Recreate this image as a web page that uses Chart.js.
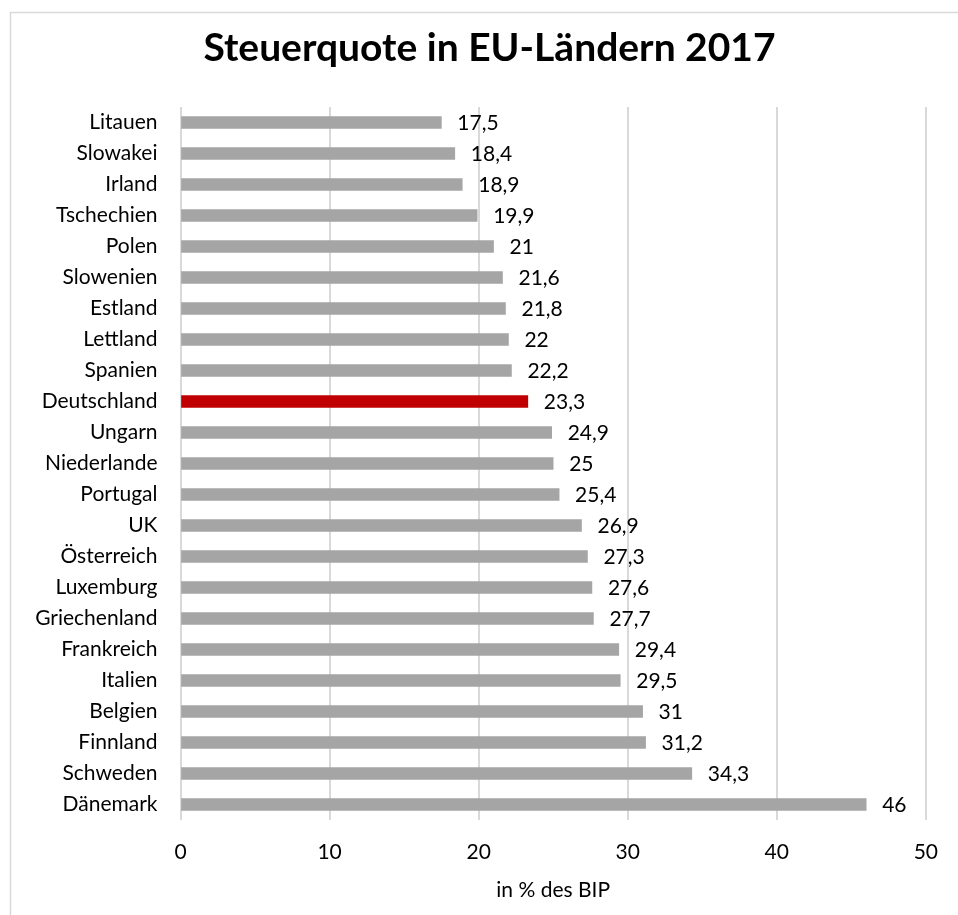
<!DOCTYPE html>
<html><head><meta charset="utf-8">
<script src="https://cdn.jsdelivr.net/npm/chart.js@4.4.1/dist/chart.umd.min.js"></script>
<style>html,body{margin:0;padding:0;background:#fff;}#wrap{width:958px;height:915px;position:relative;}</style>
</head><body><div id="wrap"><canvas id="c" width="958" height="915"></canvas></div>
<script>
const categories = ["Litauen","Slowakei","Irland","Tschechien","Polen","Slowenien","Estland","Lettland","Spanien","Deutschland","Ungarn","Niederlande","Portugal","UK","Österreich","Luxemburg","Griechenland","Frankreich","Italien","Belgien","Finnland","Schweden","Dänemark"];
const values = [17.5,18.4,18.9,19.9,21,21.6,21.8,22,22.2,23.3,24.9,25,25.4,26.9,27.3,27.6,27.7,29.4,29.5,31,31.2,34.3,46];
const highlight = "Deutschland";
const xTicks = [0,10,20,30,40,50];
const titleText = "Steuerquote in EU-Ländern 2017";
const xTitle = "in % des BIP";

const FONT = "Lato, 'Open Sans', sans-serif";
const colors = categories.map(c => c === highlight ? "#C00000" : "#A5A5A5");

const frame = {
  id: 'frame',
  beforeDraw(chart) {
    const ctx = chart.ctx;
    ctx.save();
    ctx.fillStyle = '#fff';
    ctx.fillRect(0,0,chart.width,chart.height);
    ctx.strokeStyle = '#D9D9D9';
    ctx.lineWidth = 1.5;
    ctx.strokeRect(10.5, 12.5, chart.width + 20, chart.height + 20);
    ctx.font = "bold 39px " + FONT;
    ctx.fillStyle = '#000';
    ctx.textAlign = 'center';
    ctx.textBaseline = 'middle';
    ctx.fillText(titleText, 489.5, 48);
    ctx.restore();
  }
};
const dataLabels = {
  id: 'dataLabels',
  afterDatasetsDraw(chart) {
    const ctx = chart.ctx;
    const meta = chart.getDatasetMeta(0);
    ctx.save();
    ctx.font = "21px " + FONT;
    ctx.fillStyle = '#000';
    ctx.textAlign = 'left';
    ctx.textBaseline = 'middle';
    meta.data.forEach((bar, i) => {
      const txt = String(values[i]).replace('.', ',');
      ctx.fillText(txt, bar.x + 16, bar.y + 1);
    });
    ctx.restore();
  }
};

new Chart(document.getElementById('c'), {
  type: 'bar',
  data: { labels: categories, datasets: [{ data: values, backgroundColor: colors, barThickness: 12 }] },
  options: {
    indexAxis: 'y',
    responsive: false,
    animation: false,
    layout: { padding: { left: 0, right: 29.5, top: 107, bottom: 0 } },
    plugins: {
      legend: { display: false },
      tooltip: { enabled: false },
      title: { display: false }
    },
    scales: {
      y: {
        afterFit(s) { s.width = 180.5; },
        grid: { display: false, drawTicks: false },
        border: { display: false },
        ticks: { color: '#000', font: { family: FONT, size: 21 }, padding: 23, autoSkip: false }
      },
      x: {
        min: 0, max: 50,
        afterBuildTicks(s) { s.ticks = xTicks.map(v => ({ value: v })); },
        afterFit(s) { s.height = 95; },
        grid: { color: '#D9D9D9', lineWidth: 2, drawTicks: false },
        border: { display: false },
        ticks: { color: '#000', font: { family: FONT, size: 21 }, padding: 20 },
        title: { display: true, text: xTitle, color: '#000', font: { family: FONT, size: 21 }, padding: { top: 4, bottom: 12 } }
      }
    }
  },
  plugins: [frame, dataLabels]
});
</script></body></html>
